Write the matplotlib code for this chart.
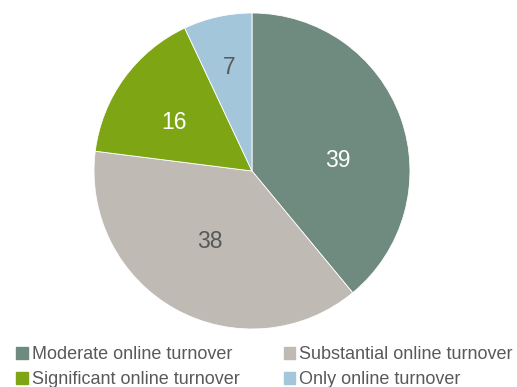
import matplotlib
matplotlib.use("Agg")
import matplotlib.pyplot as plt
import numpy as np

categories = ["Moderate online turnover", "Substantial online turnover",
              "Significant online turnover", "Only online turnover"]
values = [39, 38, 16, 7]
colors = ["#6f8a7e", "#c0bab5", "#7ea614", "#a3c6db"]
label_colors = ["white", "#595959", "white", "#595959"]

plt.rcParams['font.family'] = ['Liberation Sans', 'DejaVu Sans']

W, H = 517, 387
fig = plt.figure(figsize=(W / 100, H / 100), dpi=100)
cx, cy, r = 252, 171, 158
ax = fig.add_axes([(cx - r) / W, (H - cy - r) / H, 2 * r / W, 2 * r / H])

wedges, _ = ax.pie(values, colors=colors, startangle=90, counterclock=False,
                   wedgeprops=dict(edgecolor="white", linewidth=0.6), radius=1.0)
ax.set_xlim(-1, 1)
ax.set_ylim(-1, 1)
ax.set_aspect("equal")

rad = [0.55, 0.52, 0.585, 0.67]
ang_adj = [-13, -2, 4, 0]
for w, v, c, rr, da in zip(wedges, values, label_colors, rad, ang_adj):
    a = np.deg2rad((w.theta1 + w.theta2) / 2 + da)
    ax.text(rr * np.cos(a), rr * np.sin(a), str(v), ha="center", va="center",
            fontsize=16.5, color=c)

handles = [plt.Rectangle((0, 0), 1, 1, color=c) for c in colors]
order = [0, 2, 1, 3]
leg = fig.legend([handles[i] for i in order], [categories[i] for i in order],
                 ncol=2, loc="upper left",
                 bbox_to_anchor=(16 / W, 1 - 346 / H), frameon=False,
                 fontsize=13, handlelength=0.65, handleheight=0.65,
                 handletextpad=0.22, columnspacing=2.45, labelspacing=0.45,
                 borderaxespad=0, borderpad=0)
for t in leg.get_texts():
    t.set_color("#595959")

fig.savefig("out.png", dpi=100)
